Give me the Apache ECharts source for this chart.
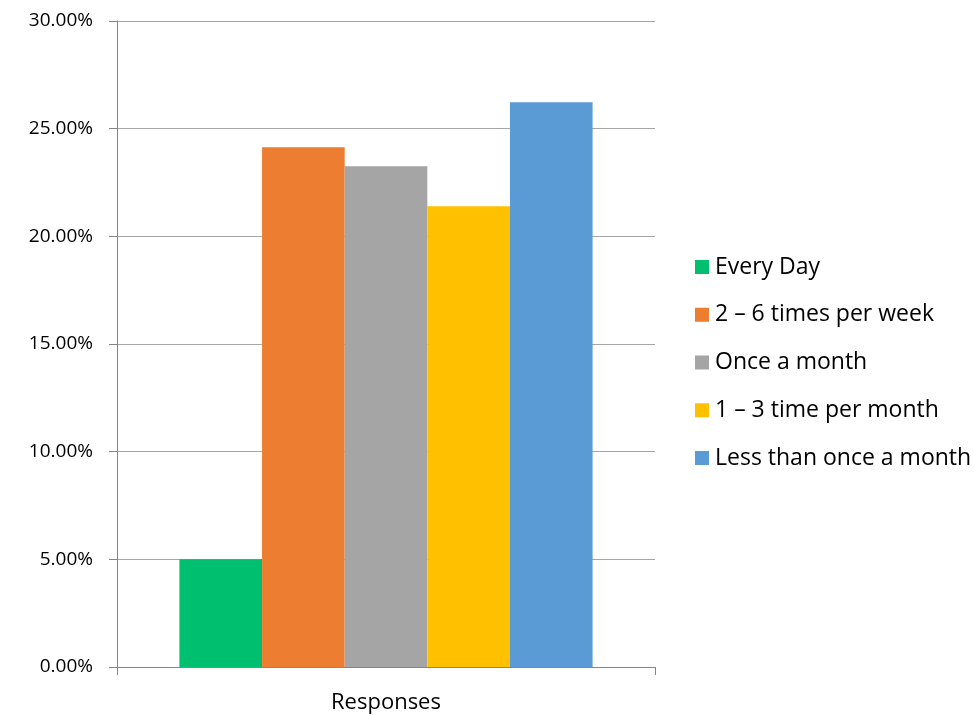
<!DOCTYPE html>
<html>
<head>
<meta charset="utf-8">
<script src="https://cdn.jsdelivr.net/npm/echarts@6/dist/echarts.min.js"></script>
<style>html,body{margin:0;padding:0;background:#fff}#c{width:974px;height:715px}</style>
</head>
<body>
<div id="c"></div>
<script>
const categories = ['Responses'];
const seriesNames = ['Every Day', '2 \u2013 6 times per week', 'Once a month', '1 \u2013 3 time per month', 'Less than once a month'];
const seriesValues = [5.00, 24.14, 23.25, 21.40, 26.23];
const seriesColors = ['#00BF6F', '#ED7D31', '#A5A5A5', '#FFC000', '#5B9BD5'];
const yTicks = { min: 0, max: 30, interval: 5 };

const FONT = 'Open Sans';
const chart = echarts.init(document.getElementById('c'));
chart.setOption({
  animation: false,
  textStyle: { fontFamily: FONT },
  grid: { left: 117, right: 319, top: 21, bottom: 48, containLabel: false },
  legend: {
    orient: 'vertical', left: 695, top: 255, padding: 0,
    itemWidth: 14, itemHeight: 14, itemGap: 23.75,
    icon: 'rect',
    textStyle: { fontFamily: FONT, fontSize: 23, lineHeight: 24, color: '#000', padding: [0, 0, 0, 1] },
    data: seriesNames
  },
  xAxis: {
    type: 'category', data: categories,
    axisLine: { lineStyle: { color: '#868686', width: 1 } },
    axisTick: { show: true, length: 8, lineStyle: { color: '#868686' } },
    axisLabel: { fontFamily: FONT, fontSize: 22, color: '#000', margin: 25 }
  },
  yAxis: {
    type: 'value', min: yTicks.min, max: yTicks.max, interval: yTicks.interval,
    axisLine: { show: true, lineStyle: { color: '#868686', width: 1 } },
    axisTick: { show: true, length: 8, lineStyle: { color: '#868686' } },
    splitLine: { lineStyle: { color: '#A6A6A6', width: 1 } },
    axisLabel: { fontFamily: FONT, fontSize: 19, color: '#000', margin: 24,
      formatter: v => v.toFixed(2) + '%' }
  },
  series: seriesNames.map((n, i) => ({
    name: n, type: 'bar', data: [seriesValues[i]],
    barGap: '0%', barCategoryGap: '23.2%',
    itemStyle: { color: seriesColors[i] }
  }))
});
</script>
</body>
</html>
